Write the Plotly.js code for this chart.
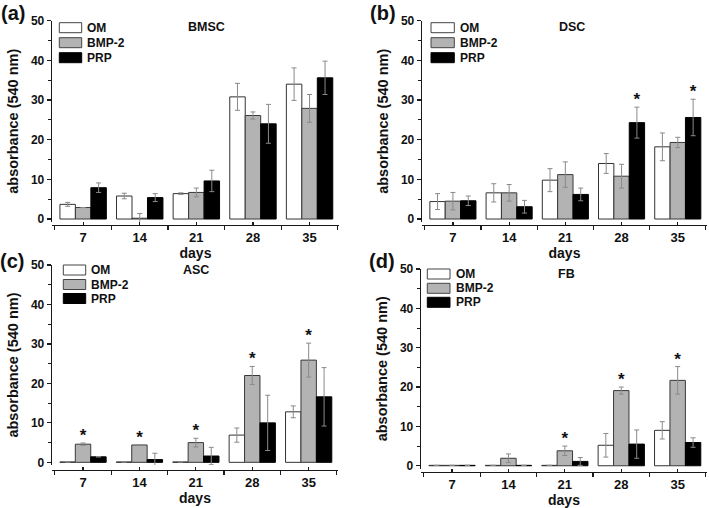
<!DOCTYPE html>
<html>
<head>
<meta charset="utf-8">
<script src="https://cdn.plot.ly/plotly-3.0.1.min.js"></script>
<style>html,body{margin:0;padding:0;background:#fff;}#chart{width:709px;height:508px;}</style>
</head>
<body>
<div id="chart"></div>
<script>
// ---- data ----
const days = ['7', '14', '21', '28', '35'];
const groups = ['OM', 'BMP-2', 'PRP'];

const bmscOM = [3.7, 5.8, 6.4, 30.8, 34.0];
const bmscOMerr = [0.5, 0.7, 0.2, 3.4, 4.1];
const bmscBMP = [2.9, 0.2, 6.7, 26.1, 27.9];
const bmscBMPerr = [0, 1.2, 1.1, 0.9, 3.5];
const bmscPRP = [7.9, 5.4, 9.6, 24.0, 35.6];
const bmscPRPerr = [1.2, 1.0, 2.7, 4.9, 4.2];

const dscOM = [4.4, 6.6, 9.8, 14.0, 18.2];
const dscOMerr = [2.0, 2.3, 2.9, 2.5, 3.5];
const dscBMP = [4.5, 6.6, 11.2, 10.8, 19.3];
const dscBMPerr = [2.2, 2.1, 3.2, 3.0, 1.3];
const dscPRP = [4.6, 3.1, 6.2, 24.3, 25.6];
const dscPRPerr = [1.2, 1.6, 1.6, 3.9, 4.6];

const ascOM = [0.1, 0.1, 0.1, 6.9, 12.8];
const ascOMerr = [0, 0, 0, 1.8, 1.5];
const ascBMP = [4.6, 4.4, 5.0, 22.0, 25.9];
const ascBMPerr = [0.3, 0, 1.1, 2.3, 4.3];
const ascPRP = [1.4, 0.7, 1.6, 10.0, 16.6];
const ascPRPerr = [0, 1.6, 2.2, 7.0, 7.4];

const fbOM = [0.1, 0.1, 0.1, 5.2, 9.0];
const fbOMerr = [0, 0, 0, 3.0, 2.2];
const fbBMP = [0.1, 1.9, 3.8, 19.1, 21.7];
const fbBMPerr = [0, 1.1, 1.2, 0.9, 3.5];
const fbPRP = [0.1, 0.1, 1.1, 5.5, 5.9];
const fbPRPerr = [0, 0, 1.0, 3.6, 1.2];

// significance markers: which group (0 OM,1 BMP-2,2 PRP) and which days
const dscStars = [0, 0, 0, 1, 1];   // on PRP
const ascStars = [1, 1, 1, 1, 1];   // on BMP-2
const fbStars = [0, 0, 1, 1, 1];    // on BMP-2

// ---- styling ----
const W = 709, H = 508;
const FONT = 'Liberation Sans, Arial, Helvetica, sans-serif';
const fills = ['#ffffff', '#b3b3b3', '#000000'];
const outlines = ['#333333', '#3a3a3a', '#000000'];
const BARGAP = 0.18;
const idx = days.map((d, i) => i);
const fx = p => p / W;
const fy = p => 1 - p / H;

const panels = [
  {name: 'BMSC', letter: '(a)', data: [[bmscOM, bmscOMerr], [bmscBMP, bmscBMPerr], [bmscPRP, bmscPRPerr]], stars: null, starGroup: 0,
   xd: [52, 339], yd: [20.7, 221.8], xpos: 225, title: [206.7, 26.7], lbl: [12.5, 13], dstand: 3,
   leg: {x0: 59.3, x1: 81.7, tops: [22.7, 37.7, 52.7], tx: 85}},
  {name: 'DSC', letter: '(b)', data: [[dscOM, dscOMerr], [dscBMP, dscBMPerr], [dscPRP, dscPRPerr]], stars: dscStars, starGroup: 2,
   xd: [422, 707], yd: [20.7, 221.8], xpos: 225, title: [571.5, 26.7], lbl: [383, 13], dstand: 3,
   leg: {x0: 431, x1: 454.3, tops: [22.7, 37.7, 52.7], tx: 458}},
  {name: 'ASC', letter: '(c)', data: [[ascOM, ascOMerr], [ascBMP, ascBMPerr], [ascPRP, ascPRPerr]], stars: ascStars, starGroup: 1,
   xd: [52, 338], yd: [265, 465.1], xpos: 470, title: [195.7, 270], lbl: [12, 261], dstand: 1,
   leg: {x0: 63.3, x1: 85.7, tops: [265, 279.5, 293.5], tx: 88.5}},
  {name: 'FB', letter: '(d)', data: [[fbOM, fbOMerr], [fbBMP, fbBMPerr], [fbPRP, fbPRPerr]], stars: fbStars, starGroup: 1,
   xd: [421, 707], yd: [269, 468.5], xpos: 472, title: [566, 274], lbl: [382, 261], dstand: 8,
   leg: {x0: 427.3, x1: 450, tops: [269, 283.3, 297.3], tx: 453.5}}
];

const traces = [];
const layout = {
  width: W, height: H, margin: {l: 0, r: 0, t: 0, b: 0},
  paper_bgcolor: '#ffffff', plot_bgcolor: 'rgba(0,0,0,0)',
  showlegend: false, barmode: 'group', bargap: BARGAP, bargroupgap: 0,
  font: {family: FONT, color: '#111'},
  annotations: [], shapes: []
};

panels.forEach((p, k) => {
  const n = k + 1;
  const xa = 'x' + (n === 1 ? '' : n), ya = 'y' + (n === 1 ? '' : n);
  p.data.forEach((d, g) => {
    traces.push({
      type: 'bar', x: idx, y: d[0], name: groups[g], xaxis: xa, yaxis: ya,
      marker: {color: fills[g], line: {color: outlines[g], width: 1}},
      error_y: {type: 'data', array: d[1], visible: true, color: '#8a8a8a', thickness: 1, width: 2.5},
      hoverinfo: 'skip'
    });
  });
  if (p.stars) {
    const bw = (1 - BARGAP) / 3;
    const off = (p.starGroup - 1) * bw;
    const sx = [], sy = [];
    p.stars.forEach((s, i) => {
      if (s) {
        sx.push(i + off);
        sy.push(p.data[p.starGroup][0][i] + p.data[p.starGroup][1][i] + 1.6);
      }
    });
    traces.push({type: 'scatter', mode: 'text', x: sx, y: sy, text: sx.map(() => '*'),
      textposition: 'middle center', textfont: {family: FONT, size: 17, color: '#111', weight: 'bold'},
      xaxis: xa, yaxis: ya, hoverinfo: 'skip', cliponaxis: false});
  }
  const axLine = {showline: true, linecolor: '#1a1a1a', linewidth: 1.3, showgrid: false, zeroline: false, fixedrange: true};
  layout['xaxis' + (n === 1 ? '' : n)] = Object.assign({}, axLine, {
    domain: [fx(p.xd[0]), fx(p.xd[1])], range: [-0.55, 4.52], anchor: 'free', position: fy(p.xpos),
    tickmode: 'array', tickvals: idx, ticktext: days, ticks: 'inside', ticklen: 3, tickwidth: 1.2, tickcolor: '#1a1a1a',
    tickfont: {family: FONT, size: 13, color: '#111', weight: 'bold'},
    minor: {tick0: 0.5, dtick: 1, ticks: 'outside', ticklen: 3.5, tickwidth: 1.2, tickcolor: '#1a1a1a', showgrid: false},
    title: {text: 'days', font: {family: FONT, size: 14, color: '#111', weight: 'bold'}, standoff: p.dstand}
  });
  layout['yaxis' + (n === 1 ? '' : n)] = Object.assign({}, axLine, {
    domain: [fy(p.yd[1]), fy(p.yd[0])], range: [-0.7, 50], anchor: 'x' + (n === 1 ? '' : n),
    tick0: 0, dtick: 10, ticks: 'outside', ticklen: 4, tickwidth: 1.2, tickcolor: '#1a1a1a',
    tickfont: {family: FONT, size: 12, color: '#111', weight: 'bold'},
    minor: {tick0: 0, dtick: 5, ticks: 'outside', ticklen: 2.5, tickwidth: 1, tickcolor: '#1a1a1a', showgrid: false},
    title: {text: 'absorbance (540 nm)', font: {family: FONT, size: 14.5, color: '#111', weight: 'bold'}, standoff: 9}
  });
  // panel title and letter
  layout.annotations.push({xref: 'paper', yref: 'paper', x: fx(p.title[0]), y: fy(p.title[1]), text: p.name,
    showarrow: false, xanchor: 'center', yanchor: 'middle', font: {family: FONT, size: 12.5, color: '#111', weight: 'bold'}});
  layout.annotations.push({xref: 'paper', yref: 'paper', x: fx(p.lbl[0]), y: fy(p.lbl[1]), text: p.letter,
    showarrow: false, xanchor: 'center', yanchor: 'middle', font: {family: FONT, size: 20, color: '#111', weight: 'bold'}});
  // legend swatches + labels
  groups.forEach((gname, g) => {
    const top = p.leg.tops[g];
    layout.shapes.push({type: 'rect', xref: 'paper', yref: 'paper',
      x0: fx(p.leg.x0), x1: fx(p.leg.x1), y0: fy(top + 10), y1: fy(top),
      fillcolor: fills[g], line: {color: g === 2 ? '#000' : '#444', width: 1}});
    layout.annotations.push({xref: 'paper', yref: 'paper', x: fx(p.leg.tx), y: fy(top + 5), text: gname,
      showarrow: false, xanchor: 'left', yanchor: 'middle', font: {family: FONT, size: 12, color: '#111', weight: 'bold'}});
  });
});

Plotly.newPlot('chart', traces, layout, {displayModeBar: false, staticPlot: true});
</script>
</body>
</html>
